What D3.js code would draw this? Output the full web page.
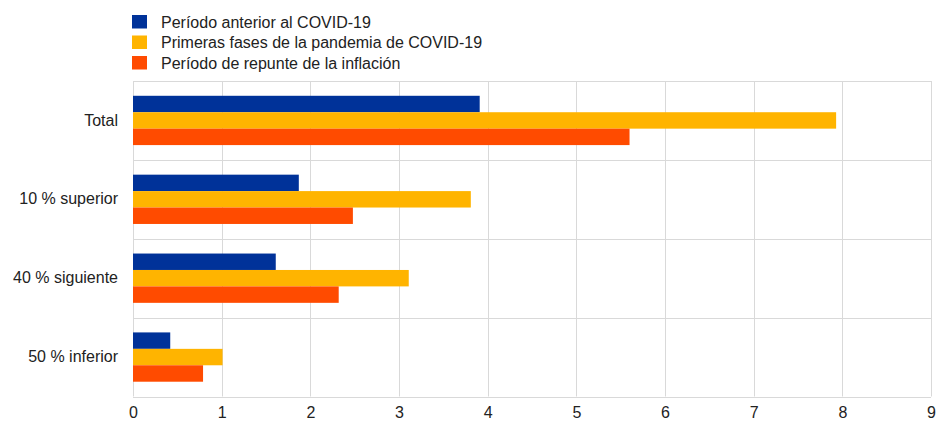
<!DOCTYPE html>
<html>
<head>
<meta charset="utf-8">
<script src="https://cdn.jsdelivr.net/npm/d3@7"></script>
<style>
  body { margin: 0; background: #fff; }
  text { font-family: "Liberation Sans", Arial, sans-serif; fill: #222; }
</style>
</head>
<body>
<script>
'use strict';

// categories, top to bottom
const categories = ["Total", "10 % superior", "40 % siguiente", "50 % inferior"];

// series names
const seriesNames = [
  "Período anterior al COVID-19",
  "Primeras fases de la pandemia de COVID-19",
  "Período de repunte de la inflación"
];

// values per series, same order as categories
const preCovid = [3.91, 1.87, 1.61, 0.42];
const earlyPandemic = [7.93, 3.81, 3.11, 1.01];
const inflationSurge = [5.60, 2.48, 2.32, 0.79];

const xTicks = [0, 1, 2, 3, 4, 5, 6, 7, 8, 9];

const colors = ["#003299", "#ffb400", "#ff4b00"];

const width = 937, height = 421;
const margin = { top: 81, right: 6, bottom: 24.5, left: 133 };

const svg = d3.select("body")
  .append("svg")
  .attr("width", width)
  .attr("height", height);

const seriesValues = [preCovid, earlyPandemic, inflationSurge];

// x scale
const xScale = d3.scaleLinear()
  .domain([0, 9])
  .range([margin.left, width - margin.right]);

// y band per category
const yScale = d3.scaleBand()
  .domain(categories)
  .range([margin.top, height - margin.bottom])
  .paddingInner(0)
  .paddingOuter(0);

// inner band per series
const ySub = d3.scaleBand()
  .domain(d3.range(seriesNames.length))
  .range([0, yScale.bandwidth()])
  .paddingOuter(0.9)
  .paddingInner(0);

// vertical grid lines
svg.append("g")
  .selectAll("line")
  .data(xTicks)
  .enter()
  .append("line")
  .attr("x1", (d) => Math.round(xScale(d)) + 0.5)
  .attr("x2", (d) => Math.round(xScale(d)) + 0.5)
  .attr("y1", margin.top)
  .attr("y2", height - margin.bottom)
  .attr("stroke", "#d9d9d9")
  .attr("stroke-width", 1);

// horizontal lines at category boundaries
const boundaries = categories.map((c) => yScale(c)).concat([height - margin.bottom]);
svg.append("g")
  .selectAll("line")
  .data(boundaries)
  .enter()
  .append("line")
  .attr("x1", margin.left)
  .attr("x2", xScale(9))
  .attr("y1", (d) => Math.round(d) + 0.5)
  .attr("y2", (d) => Math.round(d) + 0.5)
  .attr("stroke", "#d9d9d9")
  .attr("stroke-width", 1);

// bars
seriesValues.forEach((vals, si) => {
  svg.append("g")
    .selectAll("rect")
    .data(vals)
    .enter()
    .append("rect")
    .attr("x", xScale(0))
    .attr("y", (d, i) => yScale(categories[i]) + ySub(si))
    .attr("width", (d) => xScale(d) - xScale(0))
    .attr("height", ySub.bandwidth())
    .attr("fill", colors[si]);
});

// x axis labels
const xAxis = d3.axisBottom(xScale).tickValues(xTicks).tickSize(0).tickPadding(10);
const gx = svg.append("g")
  .attr("transform", `translate(0, ${height - margin.bottom})`)
  .call(xAxis);
gx.select(".domain").remove();
gx.selectAll("text")
  .style("font-size", "16px")
  .style("font-family", "'Liberation Sans', Arial, sans-serif")
  .attr("fill", "#222");

// y axis labels
const yAxis = d3.axisLeft(yScale).tickSize(0).tickPadding(15);
const gy = svg.append("g")
  .attr("transform", `translate(${margin.left}, 0)`)
  .call(yAxis);
gy.select(".domain").remove();
gy.selectAll("text")
  .style("font-size", "16px")
  .style("font-family", "'Liberation Sans', Arial, sans-serif")
  .attr("fill", "#222");

// legend
const legend = svg.append("g")
  .selectAll("g")
  .data(seriesNames)
  .enter()
  .append("g")
  .attr("transform", (d, i) => `translate(132, ${15 + i * 20.5})`);

legend.append("rect")
  .attr("width", 15)
  .attr("height", 13.5)
  .attr("fill", (d, i) => colors[i]);

legend.append("text")
  .attr("x", 29)
  .attr("y", 12.5)
  .style("font-size", "16px")
  .text((d) => d);
</script>
</body>
</html>
